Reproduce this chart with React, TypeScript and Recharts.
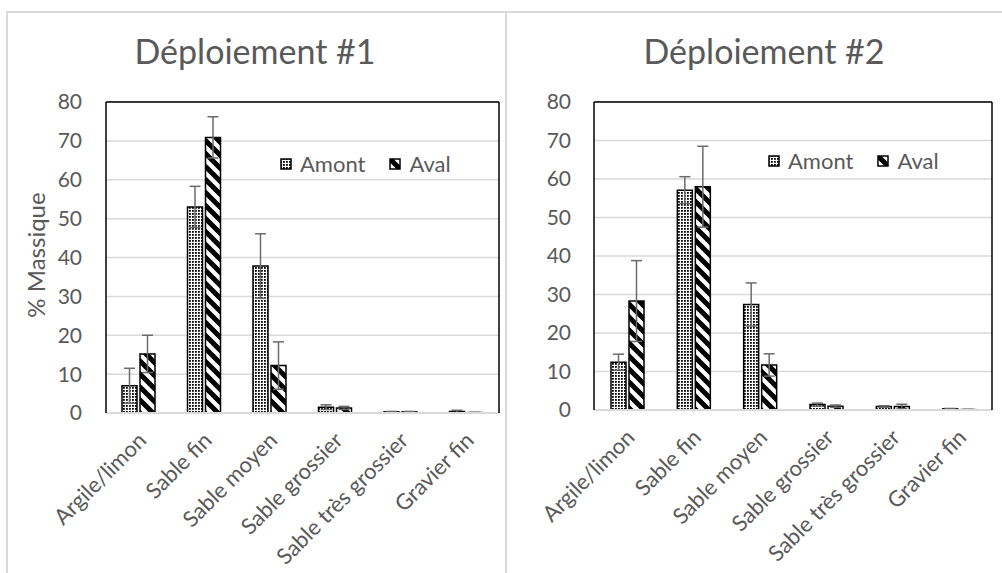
import React from "react";
import { BarChart, Bar, XAxis, YAxis, CartesianGrid, ErrorBar, Legend } from "recharts";

const categories = [
  "Argile/limon",
  "Sable fin",
  "Sable moyen",
  "Sable grossier",
  "Sable très grossier",
  "Gravier fin",
];
const yTicks = [0, 10, 20, 30, 40, 50, 60, 70, 80];

// Déploiement #1
const amont1 = [7.0, 53.0, 37.8, 1.5, 0.3, 0.4];
const amont1Err = [4.5, 5.3, 8.3, 0.6, 0.1, 0.3];
const aval1 = [15.2, 70.9, 12.2, 1.3, 0.3, 0.1];
const aval1Err = [4.8, 5.3, 6.1, 0.4, 0.1, 0.1];

// Déploiement #2
const amont2 = [12.4, 57.1, 27.4, 1.4, 0.9, 0.3];
const amont2Err = [2.1, 3.5, 5.6, 0.4, 0.2, 0.1];
const aval2 = [28.3, 58.0, 11.7, 1.0, 0.9, 0.1];
const aval2Err = [10.5, 10.5, 2.9, 0.3, 0.6, 0.1];

const FONT = "Lato, 'Noto Sans', sans-serif";
const TEXT = "#595959";
const GRID = "#d9d9d9";

type Row = { name: string; amont: number; amontErr: number; aval: number; avalErr: number };

const buildRows = (a: number[], aE: number[], v: number[], vE: number[]): Row[] =>
  categories.map((name, i) => ({ name, amont: a[i], amontErr: aE[i], aval: v[i], avalErr: vE[i] }));

const rows1 = buildRows(amont1, amont1Err, aval1, aval1Err);
const rows2 = buildRows(amont2, amont2Err, aval2, aval2Err);

function Patterns({ id }: { id: string }) {
  return (
    <defs>
      <pattern id={`${id}-dots`} width="3" height="3" patternUnits="userSpaceOnUse">
        <rect width="3" height="3" fill="#fff" />
        <rect width="1.8" height="1.8" fill="#000" />
      </pattern>
      <pattern id={`${id}-stripes`} width="13" height="13" patternUnits="userSpaceOnUse">
        <rect width="13" height="13" fill="#fff" />
        <path d="M-4,-4 L17,17 M-4,9 L4,17 M9,-4 L17,4" stroke="#000" strokeWidth="5" />
      </pattern>
    </defs>
  );
}

// rotated category label, its end sitting just under the category centre
function CategoryTick({ x, y, payload }: any) {
  return (
    <g transform={`translate(${x - 2},${y + 10}) rotate(-45)`}>
      <text x={0} y={0} dy="0.7em" textAnchor="end" fill={TEXT} fontSize={22} fontFamily={FONT}>
        {payload.value}
      </text>
    </g>
  );
}

function makeLegend(id: string) {
  return ({ payload }: any) => (
    <div style={{ display: "flex", alignItems: "center", fontFamily: FONT, fontSize: 22, color: TEXT }}>
      {(payload || []).map((entry: any, i: number) => (
        <div key={entry.value} style={{ display: "flex", alignItems: "center", marginLeft: i ? 24 : 0 }}>
          <svg width={12} height={12} style={{ marginRight: 8 }}>
            <rect
              x={1}
              y={1}
              width={10}
              height={10}
              fill={entry.dataKey === "amont" ? `url(#${id}-dots)` : `url(#${id}-stripes)`}
              stroke="#000"
              strokeWidth={1.5}
            />
          </svg>
          <span>{entry.value}</span>
        </div>
      ))}
    </div>
  );
}

type PanelProps = {
  id: string;
  title: string;
  rows: Row[];
  left: number;
  width: number;
  margin: { top: number; right: number; bottom: number; left: number };
  tickGap: number;
  titleX: number;
  legendPos: { left: number; top: number };
  yLabel?: string;
};

function Panel({ id, title, rows, left, width, margin, tickGap, titleX, legendPos, yLabel }: PanelProps) {
  return (
    <div style={{ position: "absolute", left, top: 0, width, height: 573 }}>
      <div
        style={{
          position: "absolute",
          left: titleX - 170,
          width: 340,
          top: 30,
          textAlign: "center",
          fontFamily: FONT,
          fontSize: 34,
          color: TEXT,
        }}
      >
        {title}
      </div>
      {yLabel && (
        <div
          style={{
            position: "absolute",
            left: 36 - 80,
            top: 255 - 14,
            width: 160,
            textAlign: "center",
            transform: "rotate(-90deg)",
            fontFamily: FONT,
            fontSize: 24,
            color: TEXT,
            lineHeight: "28px",
          }}
        >
          {yLabel}
        </div>
      )}
      <BarChart width={width} height={573} data={rows} margin={margin} barSize={15} barGap={3}>
        <Patterns id={id} />
        <CartesianGrid horizontal vertical={false} stroke={GRID} strokeWidth={1.5} />
        <XAxis
          dataKey="name"
          interval={0}
          tick={<CategoryTick />}
          tickLine={false}
          axisLine={{ stroke: GRID, strokeWidth: 2 }}
          height={60}
        />
        <XAxis xAxisId="top" orientation="top" dataKey="name" tick={false} tickLine={false} height={1} axisLine={{ stroke: "#000", strokeWidth: 1.5 }} />
        <YAxis
          domain={[0, 80]}
          ticks={yTicks}
          interval={0}
          tickLine={false}
          tickMargin={tickGap}
          width={60}
          axisLine={{ stroke: "#000", strokeWidth: 1.5 }}
          tick={{ fontSize: 21, fill: TEXT, fontFamily: FONT }}
        />
        <YAxis yAxisId="right" orientation="right" domain={[0, 80]} tick={false} tickLine={false} width={1} axisLine={{ stroke: "#000", strokeWidth: 1.5 }} />
        {/* legend floats inside the plot, so it must not reserve any margin */}
        <Legend
          verticalAlign="middle"
          align="center"
          layout="horizontal"
          content={makeLegend(id)}
          wrapperStyle={{ position: "absolute", left: legendPos.left, top: legendPos.top, width: "auto" }}
        />
        <Bar dataKey="amont" name="Amont" fill={`url(#${id}-dots)`} stroke="#000" strokeWidth={1.5} isAnimationActive={false}>
          <ErrorBar dataKey="amontErr" width={5.5} stroke="#6b6b6b" strokeWidth={1.5} direction="y" />
        </Bar>
        <Bar dataKey="aval" name="Aval" fill={`url(#${id}-stripes)`} stroke="#000" strokeWidth={1.5} isAnimationActive={false}>
          <ErrorBar dataKey="avalErr" width={5.5} stroke="#6b6b6b" strokeWidth={1.5} direction="y" />
        </Bar>
      </BarChart>
    </div>
  );
}

export default function App() {
  return (
    <div style={{ position: "absolute", left: 0, top: 0, width: 1002, height: 573, background: "#fff", overflow: "hidden" }}>
      <div style={{ position: "absolute", left: 6, top: 11, width: 1010, height: 600, border: `2px solid ${GRID}` }} />
      <div style={{ position: "absolute", left: 505, top: 11, width: 2, height: 600, background: GRID }} />
      <Panel
        id="d1"
        title="Déploiement #1"
        rows={rows1}
        left={0}
        width={507}
        margin={{ top: 101, right: 7, bottom: 100, left: 46 }}
        tickGap={18}
        titleX={255}
        legendPos={{ left: 280, top: 150 }}
        yLabel="% Massique"
      />
      <Panel
        id="d2"
        title="Déploiement #2"
        rows={rows2}
        left={507}
        width={495}
        margin={{ top: 101, right: 9, bottom: 103, left: 27 }}
        tickGap={17}
        titleX={257}
        legendPos={{ left: 261, top: 147 }}
      />
    </div>
  );
}
